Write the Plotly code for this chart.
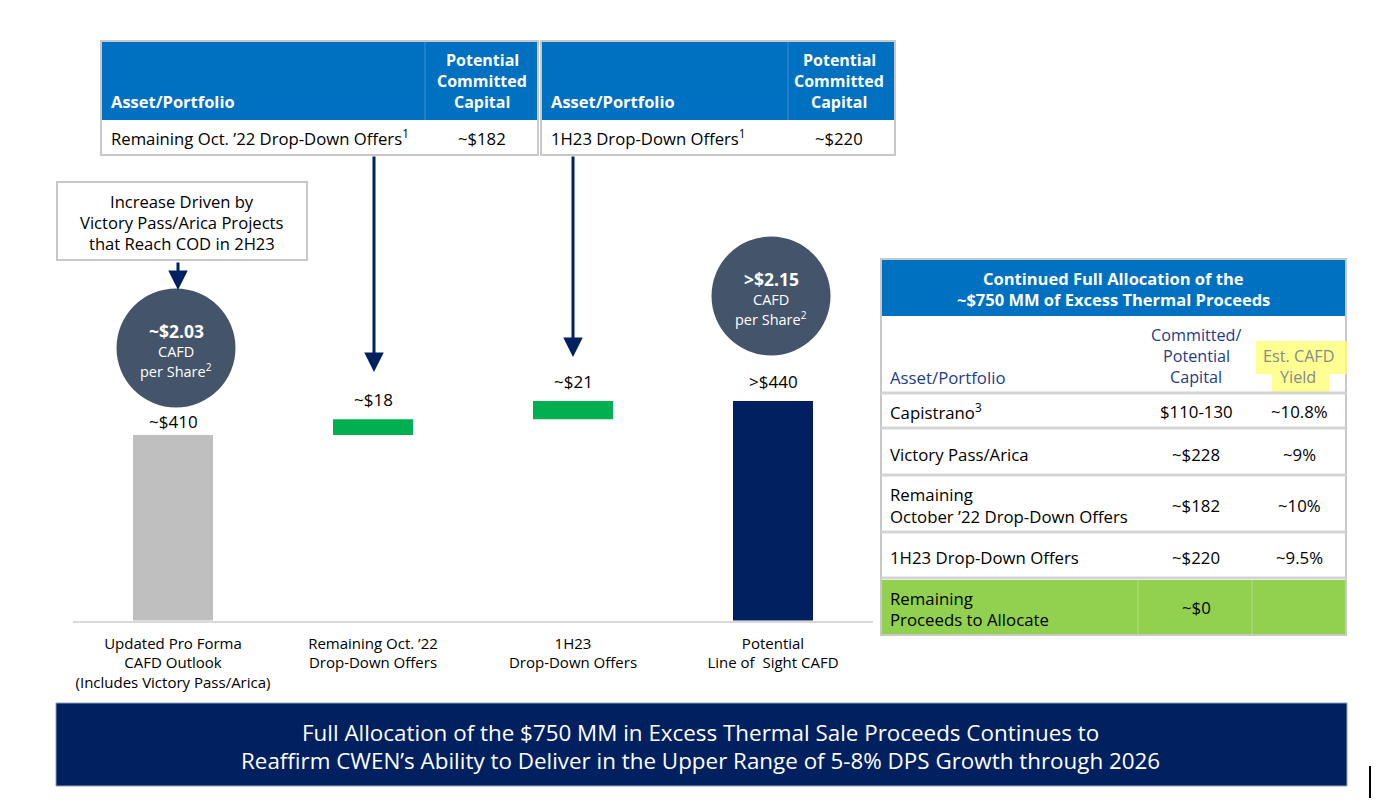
import plotly.graph_objects as go

# ---------------- data ----------------
categories = [
    "Updated Pro Forma<br>CAFD Outlook<br>(Includes Victory Pass/Arica)",
    "Remaining Oct. ’22<br>Drop-Down Offers",
    "1H23<br>Drop-Down Offers",
    "Potential<br>Line of  Sight CAFD",
]
cafd_start = 410
cafd_oct22 = 18
cafd_1h23 = 21
bar_labels = ["~$410", "~$18", "~$21", ">$440"]

circle_values = ["~$2.03", ">$2.15"]

top_tables = [
    ("Remaining Oct. ’22 Drop-Down Offers<sup>1</sup>", "~$182"),
    ("1H23 Drop-Down Offers<sup>1</sup>", "~$220"),
]

alloc_assets = ["Capistrano<sup>3</sup>", "Victory Pass/Arica",
                "Remaining<br>October ’22 Drop-Down Offers", "1H23 Drop-Down Offers"]
alloc_capital = ["$110-130", "~$228", "~$182", "~$220"]
alloc_yield = ["~10.8%", "~9%", "~10%", "~9.5%"]
remaining_label = "Remaining<br>Proceeds to Allocate"
remaining_value = "~$0"

banner_lines = [
    "Full Allocation of the $750 MM in Excess Thermal Sale Proceeds Continues to",
    "Reaffirm CWEN’s Ability to Deliver in the Upper Range of 5-8% DPS Growth through 2026",
]

# ---------------- helpers ----------------
OFF = 8  # page body margin
W, H = 1386 - 2 * OFF, 806 - 2 * OFF
FONT = "Open Sans"
NAVY = "#002060"
BLUE = "#0070C0"
SLATE = "#44546A"
GRAY_LINE = "#C8C8C8"


def X(px):
    return (px - OFF) / W


def Y(py):
    return 1 - (py - OFF) / H


shapes = []
annotations = []


def rect(x0, y0, x1, y1, fill=None, line=None, lw=1, layer="below"):
    shapes.append(dict(type="rect", xref="paper", yref="paper",
                       x0=X(x0), x1=X(x1), y0=Y(y1), y1=Y(y0),
                       fillcolor=fill if fill else "rgba(0,0,0,0)",
                       line=dict(color=line if line else "rgba(0,0,0,0)", width=lw if line else 0),
                       layer=layer))


def hline(x0, x1, y, color, lw):
    shapes.append(dict(type="line", xref="paper", yref="paper",
                       x0=X(x0), x1=X(x1), y0=Y(y), y1=Y(y),
                       line=dict(color=color, width=lw), layer="below"))


def vline(x, y0, y1, color, lw):
    shapes.append(dict(type="line", xref="paper", yref="paper",
                       x0=X(x), x1=X(x), y0=Y(y0), y1=Y(y1),
                       line=dict(color=color, width=lw), layer="below"))


def txt(px, py, s, size=16, color="black", bold=False, anchor="center"):
    if bold:
        s = "<b>" + s + "</b>"
    annotations.append(dict(xref="paper", yref="paper", x=X(px), y=Y(py),
                            text=s, showarrow=False, xanchor=anchor, yanchor="middle",
                            font=dict(family=FONT, size=size, color=color)))


def arrow(px, y_tail, y_head):
    annotations.append(dict(xref="paper", yref="paper", x=X(px), y=Y(y_head),
                            ax=0, ay=-(y_head - y_tail), axref="pixel", ayref="pixel",
                            text="", showarrow=True, arrowhead=2, arrowsize=1.3,
                            arrowwidth=3, arrowcolor=NAVY))


# ---------------- bars ----------------
total = cafd_start + cafd_oct22 + cafd_1h23
heights = [cafd_start, cafd_oct22, cafd_1h23, total]
bases = [0, cafd_start, cafd_start + cafd_oct22, 0]
colors = ["#BFBFBF", "#00B050", "#00B050", NAVY]

fig = go.Figure()
fig.add_trace(go.Bar(x=categories, y=heights, base=bases, width=0.4,
                     marker=dict(color=colors, line=dict(width=0)),
                     hoverinfo="skip", showlegend=False))

label_shift = [0, 6, 6, 6]
for i, (c, lab) in enumerate(zip(categories, bar_labels)):
    annotations.append(dict(xref="x", yref="y", x=c, y=bases[i] + heights[i],
                            text=lab, showarrow=False, yanchor="bottom",
                            yshift=label_shift[i],
                            font=dict(family=FONT, size=17, color="black")))

# ---------------- top tables ----------------
tables_geom = [(101, 538, 425, 482), (541, 895, 788, 839)]
for (x0, x1, xdiv, xc), (asset, cap) in zip(tables_geom, top_tables):
    rect(x0, 41, x1, 155, fill="white", line=GRAY_LINE, lw=2)
    rect(x0 + 1, 42, x1 - 1, 120, fill=BLUE)
    vline(xdiv, 42, 120, "#3E8ED0", 1)
    txt(x0 + 8, 102, "Asset/Portfolio", 16.5, "white", True, "left")
    for yy, w in zip([60, 81, 102], ["Potential", "Committed", "Capital"]):
        txt(xc, yy, w, 16, "white", True)
    txt(x0 + 8, 138, asset, 16.7, "black", False, "left")
    txt(xc, 138, cap, 16.7, "black")

arrow(374, 155, 372)
arrow(573, 155, 357)

# ---------------- left note box ----------------
rect(57, 182, 307, 260, fill="white", line=GRAY_LINE, lw=2)
for yy, s in zip([202, 222, 243], ["Increase Driven by", "Victory Pass/Arica Projects",
                                   "that Reach COD in 2H23"]):
    txt(182, yy, s, 16.6, "black")
arrow(178, 261, 290)

# ---------------- circles ----------------
circ_geom = [(176, 348), (771, 296)]
r = 59.5
for (cx, cy), val in zip(circ_geom, circle_values):
    shapes.append(dict(type="circle", xref="paper", yref="paper",
                       x0=X(cx - r), x1=X(cx + r), y0=Y(cy + r), y1=Y(cy - r),
                       fillcolor=SLATE, line=dict(width=0), layer="below"))
    txt(cx, cy - 17, val, 17.5, "white", True)
    txt(cx, cy + 3, "CAFD", 14.5, "white")
    txt(cx, cy + 22, "per Share<sup>2</sup>", 14.5, "white")

# ---------------- right table ----------------
RX0, RX1 = 881, 1346
rect(RX0, 259, RX1, 635, fill="white", line=GRAY_LINE, lw=2)
rect(RX0 + 1, 260, RX1 - 1, 316, fill=BLUE)
txt(1113, 278, "Continued Full Allocation of the", 16.5, "white", True)
txt(1113, 299, "~$750 MM of Excess Thermal Proceeds", 16.5, "white", True)

HDR = "#1F3C88"
txt(888, 377, "Asset/Portfolio", 16.8, HDR, False, "left")
for yy, s in zip([335, 356, 377], ["Committed/", "Potential", "Capital"]):
    txt(1196, yy, s, 16.2, HDR)
# yellow highlight
rect(1256, 341, 1347, 374, fill="rgba(255,255,110,0.75)")
rect(1272, 374, 1329, 392, fill="rgba(255,255,110,0.75)")
txt(1298, 356, "Est. CAFD", 16.2, "#858C8C")
txt(1298, 377, "Yield", 16.2, "#858C8C")

row_lines = [393, 428, 475, 532, 578]
for yy in row_lines:
    hline(RX0, RX1, yy, "#D4D4D4", 3)

row_centers = [412, 454, 505, 557]
for yc, a, c, yv in zip(row_centers, alloc_assets, alloc_capital, alloc_yield):
    if "<br>" in a:
        l1, l2 = a.split("<br>")
        txt(888, yc - 10, l1, 16.8, "black", False, "left")
        txt(888, yc + 11, l2, 16.8, "black", False, "left")
    else:
        txt(888, yc, a, 16.8, "black", False, "left")
    txt(1196, yc, c, 16.8, "black")
    txt(1299, yc, yv, 16.8, "black")

rect(RX0 + 1, 580, RX1 - 1, 634, fill="#92D050")
vline(1138, 580, 634, "#A9DB78", 1.5)
vline(1252, 580, 634, "#A9DB78", 1.5)
l1, l2 = remaining_label.split("<br>")
txt(888, 598, l1, 16.8, "black", False, "left")
txt(888, 619, l2, 16.8, "black", False, "left")
txt(1196, 607, remaining_value, 16.8, "black")

# ---------------- bottom banner ----------------
rect(56, 703, 1347, 786, fill=NAVY, line="#8FA0C0", lw=1)
txt(701, 732, banner_lines[0], 22.4, "white")
txt(701, 760, banner_lines[1], 22.4, "white")

vline(1370, 766, 798, "black", 2)

# ---------------- layout ----------------
y_lo, y_hi = 197.3, 633.6
fig.update_layout(
    width=W, height=H,
    margin=dict(l=0, r=0, t=0, b=0),
    paper_bgcolor="white", plot_bgcolor="white",
    font=dict(family=FONT, size=15, color="black"),
    shapes=shapes, annotations=annotations,
    xaxis=dict(domain=[X(73), X(873)], range=[-0.5, 3.5], showgrid=False,
               showline=True, linecolor="#D9D9D9", linewidth=2, ticks="",
               ticklabelstandoff=8,
               tickfont=dict(family=FONT, size=15, color="black"), fixedrange=True),
    yaxis=dict(domain=[Y(620.5), Y(240)], range=[y_lo, y_hi], visible=False,
               showgrid=False, zeroline=False, fixedrange=True),
    bargap=0.6,
)

fig.write_html("out.html")
